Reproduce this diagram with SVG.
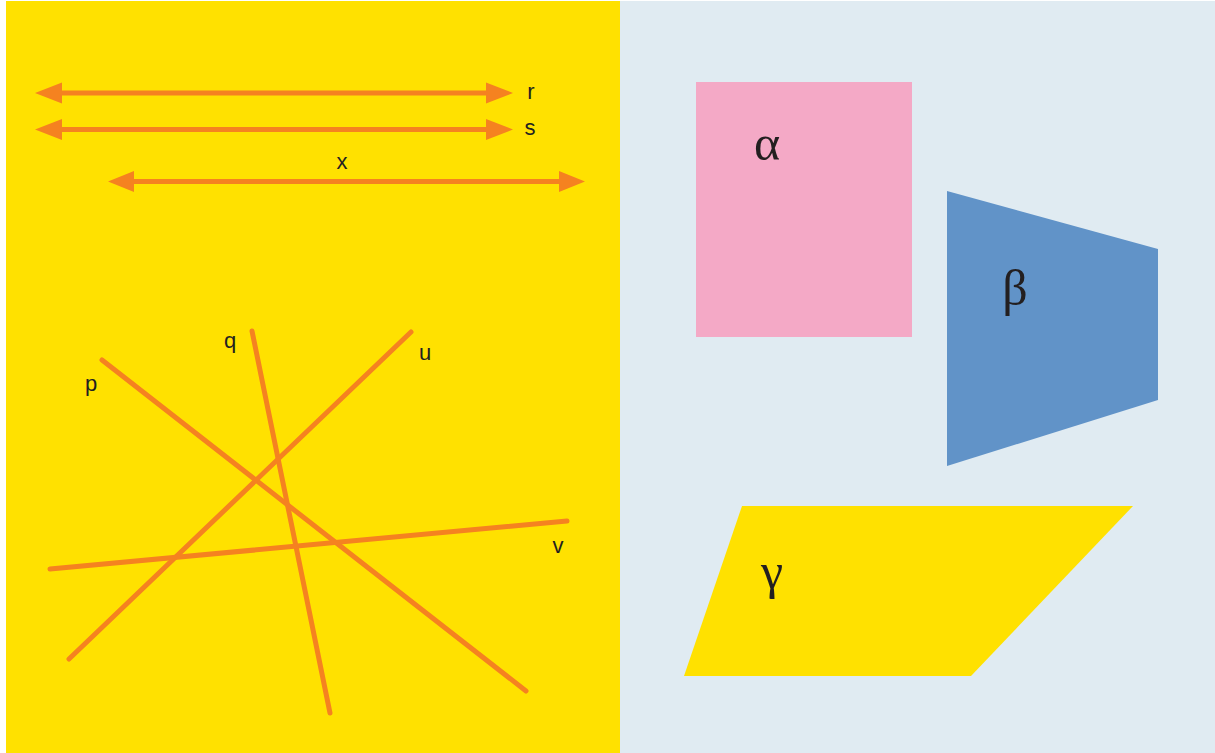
<svg xmlns="http://www.w3.org/2000/svg" width="1215" height="753" viewBox="0 0 1215 753">
<style>
.ln{stroke:#f58220;stroke-width:5;stroke-linecap:round;fill:none}
.ar{stroke:#f58220;stroke-width:5;fill:none}
.hd{fill:#f58220}
.lbl{font-family:"Liberation Sans",Arial,sans-serif;font-size:22px;fill:#231f20;text-anchor:middle}
.gr{font-family:"Liberation Serif","Times New Roman",serif;font-size:50px;fill:#231f20;text-anchor:middle}
</style>
<rect x="0" y="0" width="1215" height="753" fill="#ffffff"/>
<rect id="left-panel" x="6" y="1" width="614" height="752" fill="#ffe100"/>
<rect id="right-panel" x="620" y="1" width="595" height="752" fill="#e0ebf2"/>
<g id="connectors">
<g id="r">
<line class="ar" x1="60" y1="93" x2="489" y2="93"/>
<polygon class="hd" points="35,93 62,82.5 62,103.5"/>
<polygon class="hd" points="513,93 486,82.5 486,103.5"/>
</g>
<g id="s">
<line class="ar" x1="60" y1="129.5" x2="489" y2="129.5"/>
<polygon class="hd" points="35,129.5 62,119 62,140"/>
<polygon class="hd" points="513,129.5 486,119 486,140"/>
</g>
<g id="x">
<line class="ar" x1="132" y1="181.5" x2="561" y2="181.5"/>
<polygon class="hd" points="108,181.5 134,171 134,192"/>
<polygon class="hd" points="585,181.5 559,171 559,192"/>
</g>
<line id="p" class="ln" x1="102" y1="360" x2="526" y2="691"/>
<line id="q" class="ln" x1="252" y1="331" x2="330" y2="713"/>
<line id="u" class="ln" x1="411" y1="332" x2="69" y2="659"/>
<line id="v" class="ln" x1="50" y1="569" x2="567" y2="521"/>
</g>
<g id="labels">
<text class="lbl" x="531" y="99">r</text>
<text class="lbl" x="530" y="135">s</text>
<text class="lbl" x="342" y="169">x</text>
<text class="lbl" x="91" y="391">p</text>
<text class="lbl" x="230" y="348">q</text>
<text class="lbl" x="425" y="360">u</text>
<text class="lbl" x="558" y="553">v</text>
</g>
<g id="alpha">
<rect x="696" y="82" width="216" height="255" fill="#f4a9c6"/>
<text class="gr" x="767" y="160">α</text>
</g>
<g id="beta">
<polygon points="947,191 1158,249 1158,400 947,466" fill="#6193c8"/>
<text class="gr" x="1015" y="305">β</text>
</g>
<g id="gamma">
<polygon points="742,506 1133,506 971,676 684,676" fill="#ffe100"/>
<text class="gr" x="772" y="588">γ</text>
</g>
</svg>
